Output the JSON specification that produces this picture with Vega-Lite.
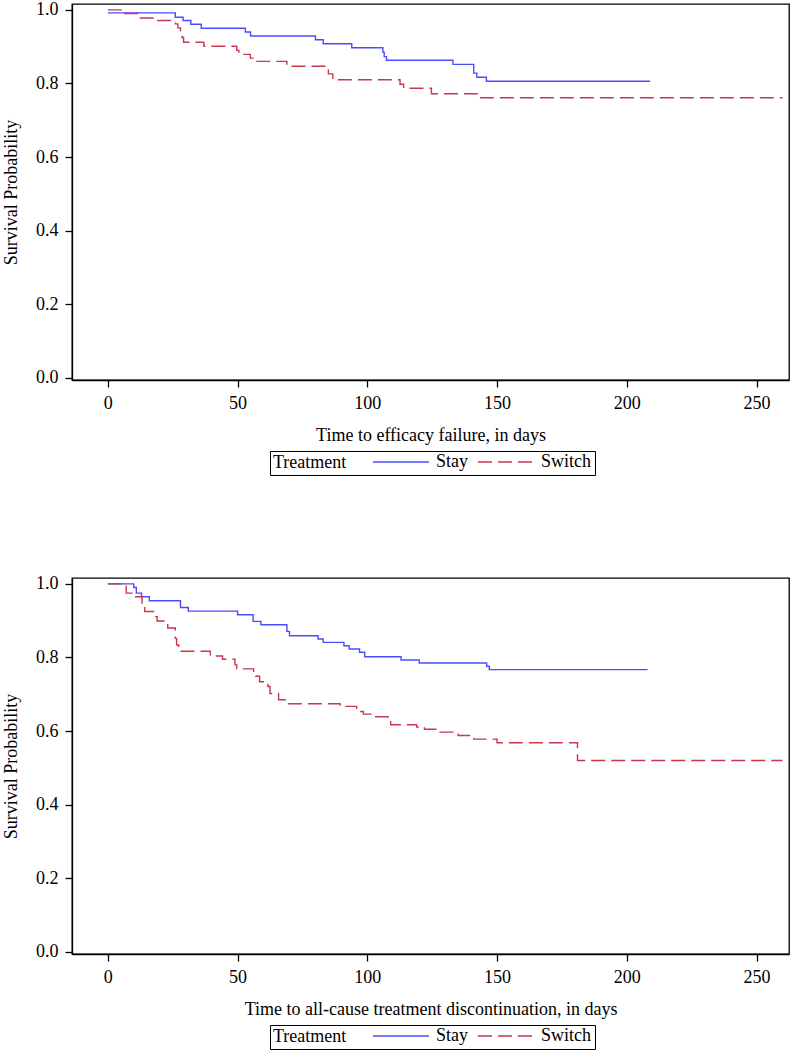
{
  "$schema": "https://vega.github.io/schema/vega-lite/v6.json",
  "padding": {"left": 1, "top": 0, "right": 1, "bottom": 0},
  "background": "white",
  "config": {
    "font": "Liberation Serif",
    "view": {"stroke": "black", "strokeWidth": 1.3},
    "axis": {
      "grid": false,
      "domainColor": "black",
      "domainWidth": 1.3,
      "tickColor": "black",
      "tickWidth": 1.3,
      "tickSize": 7,
      "labelColor": "black",
      "labelFont": "Liberation Serif",
      "labelFontSize": 18,
      "labelPadding": 7,
      "titleColor": "black",
      "titleFont": "Liberation Serif",
      "titleFontSize": 18,
      "titleFontWeight": "normal"
    },
    "legend": {
      "orient": "none",
      "direction": "horizontal",
      "titleOrient": "left",
      "strokeColor": "black",
      "padding": 3,
      "titleFont": "Liberation Serif",
      "titleFontSize": 18,
      "titleFontWeight": "normal",
      "titleColor": "black",
      "titlePadding": 25,
      "labelFont": "Liberation Serif",
      "labelFontSize": 18,
      "labelColor": "black",
      "symbolType": "stroke",
      "symbolSize": 3136,
      "symbolStrokeWidth": 1.3,
      "clipHeight": 16,
      "columnPadding": 8,
      "labelOffset": 6
    }
  },
  "datasets": {
    "km": [
      {"panel": "A", "group": "Stay", "t": 0, "s": 0.992},
      {"panel": "A", "group": "Stay", "t": 26, "s": 0.980},
      {"panel": "A", "group": "Stay", "t": 29, "s": 0.971},
      {"panel": "A", "group": "Stay", "t": 32, "s": 0.961},
      {"panel": "A", "group": "Stay", "t": 36, "s": 0.950},
      {"panel": "A", "group": "Stay", "t": 53, "s": 0.940},
      {"panel": "A", "group": "Stay", "t": 55, "s": 0.929},
      {"panel": "A", "group": "Stay", "t": 80, "s": 0.919},
      {"panel": "A", "group": "Stay", "t": 83, "s": 0.908},
      {"panel": "A", "group": "Stay", "t": 94, "s": 0.897},
      {"panel": "A", "group": "Stay", "t": 106, "s": 0.885},
      {"panel": "A", "group": "Stay", "t": 106.5, "s": 0.873},
      {"panel": "A", "group": "Stay", "t": 107.4, "s": 0.863},
      {"panel": "A", "group": "Stay", "t": 133, "s": 0.852},
      {"panel": "A", "group": "Stay", "t": 141, "s": 0.828},
      {"panel": "A", "group": "Stay", "t": 142.2, "s": 0.817},
      {"panel": "A", "group": "Stay", "t": 145.9, "s": 0.806},
      {"panel": "A", "group": "Stay", "t": 209, "s": 0.806},
      {"panel": "A", "group": "Switch", "t": 0, "s": 1.0},
      {"panel": "A", "group": "Switch", "t": 6, "s": 0.990},
      {"panel": "A", "group": "Switch", "t": 12, "s": 0.978},
      {"panel": "A", "group": "Switch", "t": 18, "s": 0.971},
      {"panel": "A", "group": "Switch", "t": 26, "s": 0.962},
      {"panel": "A", "group": "Switch", "t": 27, "s": 0.951},
      {"panel": "A", "group": "Switch", "t": 28, "s": 0.939},
      {"panel": "A", "group": "Switch", "t": 28.6, "s": 0.925},
      {"panel": "A", "group": "Switch", "t": 29.2, "s": 0.912},
      {"panel": "A", "group": "Switch", "t": 37, "s": 0.901},
      {"panel": "A", "group": "Switch", "t": 49.7, "s": 0.890},
      {"panel": "A", "group": "Switch", "t": 50.5, "s": 0.879},
      {"panel": "A", "group": "Switch", "t": 54.9, "s": 0.869},
      {"panel": "A", "group": "Switch", "t": 56.8, "s": 0.860},
      {"panel": "A", "group": "Switch", "t": 69, "s": 0.847},
      {"panel": "A", "group": "Switch", "t": 85, "s": 0.826},
      {"panel": "A", "group": "Switch", "t": 86.7, "s": 0.810},
      {"panel": "A", "group": "Switch", "t": 112.6, "s": 0.798},
      {"panel": "A", "group": "Switch", "t": 114, "s": 0.787},
      {"panel": "A", "group": "Switch", "t": 124.7, "s": 0.772},
      {"panel": "A", "group": "Switch", "t": 143, "s": 0.761},
      {"panel": "A", "group": "Switch", "t": 260, "s": 0.761},
      {"panel": "B", "group": "Stay", "t": 0, "s": 1.0},
      {"panel": "B", "group": "Stay", "t": 10, "s": 0.990},
      {"panel": "B", "group": "Stay", "t": 11, "s": 0.975},
      {"panel": "B", "group": "Stay", "t": 13, "s": 0.965},
      {"panel": "B", "group": "Stay", "t": 16, "s": 0.954},
      {"panel": "B", "group": "Stay", "t": 28, "s": 0.936},
      {"panel": "B", "group": "Stay", "t": 31, "s": 0.926},
      {"panel": "B", "group": "Stay", "t": 50, "s": 0.916},
      {"panel": "B", "group": "Stay", "t": 56, "s": 0.898},
      {"panel": "B", "group": "Stay", "t": 59, "s": 0.889},
      {"panel": "B", "group": "Stay", "t": 69, "s": 0.871},
      {"panel": "B", "group": "Stay", "t": 70, "s": 0.859},
      {"panel": "B", "group": "Stay", "t": 81, "s": 0.850},
      {"panel": "B", "group": "Stay", "t": 83, "s": 0.841},
      {"panel": "B", "group": "Stay", "t": 91, "s": 0.832},
      {"panel": "B", "group": "Stay", "t": 93, "s": 0.823},
      {"panel": "B", "group": "Stay", "t": 97, "s": 0.814},
      {"panel": "B", "group": "Stay", "t": 99, "s": 0.802},
      {"panel": "B", "group": "Stay", "t": 113, "s": 0.793},
      {"panel": "B", "group": "Stay", "t": 120, "s": 0.785},
      {"panel": "B", "group": "Stay", "t": 146, "s": 0.776},
      {"panel": "B", "group": "Stay", "t": 147, "s": 0.767},
      {"panel": "B", "group": "Stay", "t": 208, "s": 0.767},
      {"panel": "B", "group": "Switch", "t": 0, "s": 1.0},
      {"panel": "B", "group": "Switch", "t": 7.1, "s": 0.975},
      {"panel": "B", "group": "Switch", "t": 10.4, "s": 0.965},
      {"panel": "B", "group": "Switch", "t": 13.2, "s": 0.946},
      {"panel": "B", "group": "Switch", "t": 14.2, "s": 0.925},
      {"panel": "B", "group": "Switch", "t": 18.5, "s": 0.911},
      {"panel": "B", "group": "Switch", "t": 19, "s": 0.899},
      {"panel": "B", "group": "Switch", "t": 22.5, "s": 0.889},
      {"panel": "B", "group": "Switch", "t": 23.1, "s": 0.880},
      {"panel": "B", "group": "Switch", "t": 26, "s": 0.852},
      {"panel": "B", "group": "Switch", "t": 26.5, "s": 0.834},
      {"panel": "B", "group": "Switch", "t": 27.3, "s": 0.817},
      {"panel": "B", "group": "Switch", "t": 39.5, "s": 0.804},
      {"panel": "B", "group": "Switch", "t": 44.2, "s": 0.795},
      {"panel": "B", "group": "Switch", "t": 49, "s": 0.780},
      {"panel": "B", "group": "Switch", "t": 49.7, "s": 0.769},
      {"panel": "B", "group": "Switch", "t": 56.2, "s": 0.757},
      {"panel": "B", "group": "Switch", "t": 57, "s": 0.749},
      {"panel": "B", "group": "Switch", "t": 58.5, "s": 0.734},
      {"panel": "B", "group": "Switch", "t": 61.7, "s": 0.721},
      {"panel": "B", "group": "Switch", "t": 62.5, "s": 0.702},
      {"panel": "B", "group": "Switch", "t": 65.8, "s": 0.685},
      {"panel": "B", "group": "Switch", "t": 69.6, "s": 0.674},
      {"panel": "B", "group": "Switch", "t": 89.5, "s": 0.667},
      {"panel": "B", "group": "Switch", "t": 95.9, "s": 0.653},
      {"panel": "B", "group": "Switch", "t": 98.5, "s": 0.646},
      {"panel": "B", "group": "Switch", "t": 102.7, "s": 0.639},
      {"panel": "B", "group": "Switch", "t": 108, "s": 0.628},
      {"panel": "B", "group": "Switch", "t": 109, "s": 0.617},
      {"panel": "B", "group": "Switch", "t": 119, "s": 0.611},
      {"panel": "B", "group": "Switch", "t": 122, "s": 0.605},
      {"panel": "B", "group": "Switch", "t": 128, "s": 0.597},
      {"panel": "B", "group": "Switch", "t": 135, "s": 0.588},
      {"panel": "B", "group": "Switch", "t": 141, "s": 0.578},
      {"panel": "B", "group": "Switch", "t": 150, "s": 0.568},
      {"panel": "B", "group": "Switch", "t": 181, "s": 0.520},
      {"panel": "B", "group": "Switch", "t": 260, "s": 0.520}
    ]
  },
  "spacing": 97,
  "resolve": {"legend": {"color": "independent", "strokeDash": "independent"}},
  "vconcat": [
    {
      "width": 717,
      "height": 376,
      "data": {"name": "km"},
      "transform": [{"filter": "datum.panel == 'A'"}],
      "mark": {"type": "line", "interpolate": "step-after", "strokeWidth": 1.4},
      "encoding": {
        "x": {"field": "t", "type": "quantitative",
          "scale": {"domain": [-13.8, 262.5], "nice": false, "zero": false},
          "axis": {"values": [0, 50, 100, 150, 200, 250], "title": "Time to efficacy failure, in days", "titlePadding": 14}},
        "y": {"field": "s", "type": "quantitative",
          "scale": {"domain": [-0.006, 1.016], "nice": false, "zero": false},
          "axis": {"values": [0, 0.2, 0.4, 0.6, 0.8, 1.0], "format": ".1f", "title": "Survival Probability", "titlePadding": 15}},
        "color": {"field": "group", "type": "nominal",
          "scale": {"domain": ["Stay", "Switch"], "range": ["#4b4bff", "#c8374b"]},
          "legend": {"title": "Treatment", "legendX": 198, "legendY": 447}},
        "strokeDash": {"field": "group", "type": "nominal",
          "scale": {"domain": ["Stay", "Switch"], "range": [[1, 0], [14, 6]]},
          "legend": {"title": "Treatment", "legendX": 198, "legendY": 447}}
      }
    },
    {
      "width": 717,
      "height": 376,
      "data": {"name": "km"},
      "transform": [{"filter": "datum.panel == 'B'"}],
      "mark": {"type": "line", "interpolate": "step-after", "strokeWidth": 1.4},
      "encoding": {
        "x": {"field": "t", "type": "quantitative",
          "scale": {"domain": [-13.8, 262.5], "nice": false, "zero": false},
          "axis": {"values": [0, 50, 100, 150, 200, 250], "title": "Time to all-cause treatment discontinuation, in days", "titlePadding": 14}},
        "y": {"field": "s", "type": "quantitative",
          "scale": {"domain": [-0.006, 1.016], "nice": false, "zero": false},
          "axis": {"values": [0, 0.2, 0.4, 0.6, 0.8, 1.0], "format": ".1f", "title": "Survival Probability", "titlePadding": 15}},
        "color": {"field": "group", "type": "nominal",
          "scale": {"domain": ["Stay", "Switch"], "range": ["#4b4bff", "#c8374b"]},
          "legend": {"title": "Treatment", "legendX": 198, "legendY": 447}},
        "strokeDash": {"field": "group", "type": "nominal",
          "scale": {"domain": ["Stay", "Switch"], "range": [[1, 0], [14, 6]]},
          "legend": {"title": "Treatment", "legendX": 198, "legendY": 447}}
      }
    }
  ]
}
